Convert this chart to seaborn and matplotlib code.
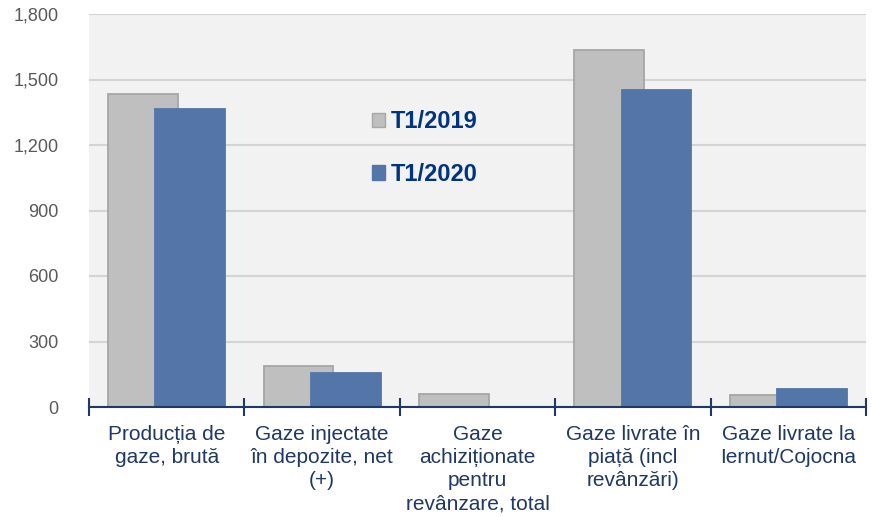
import matplotlib
matplotlib.use("Agg")
import matplotlib.pyplot as plt
from matplotlib.patches import Patch
import pandas as pd
import seaborn as sns

categories = [
    "Producția de\ngaze, brută",
    "Gaze injectate\nîn depozite, net\n(+)",
    "Gaze\nachiziționate\npentru\nrevânzare, total",
    "Gaze livrate în\npiață (incl\nrevânzări)",
    "Gaze livrate la\nIernut/Cojocna",
]
periods = ["T1/2019", "T1/2020"]
values_2019 = [1432, 188, 60, 1635, 55]
values_2020 = [1365, 156, 0, 1450, 82]
yticks = [0, 300, 600, 900, 1200, 1500, 1800]

colors = {"T1/2019": "#bfbfbf", "T1/2020": "#5475a8"}
edges = {"T1/2019": "#a6a6a6", "T1/2020": "#5475a8"}
navy = "#1f3864"

df = pd.DataFrame({
    "cat": categories * 2,
    "period": [periods[0]] * 5 + [periods[1]] * 5,
    "val": values_2019 + values_2020,
})

sns.set_style("white")
plt.rcParams["font.family"] = ["Liberation Sans", "DejaVu Sans"]

fig = plt.figure(figsize=(8.72, 5.17), dpi=100)
ax = fig.add_axes([89 / 872, 1 - 407 / 517, (866 - 89) / 872, (407 - 14) / 517])
ax.set_facecolor("#f2f2f2")

sns.barplot(data=df, x="cat", y="val", hue="period", hue_order=periods,
            palette=colors, ax=ax, legend=False, saturation=1)

# overlapping bars like the original
w = 0.45
offsets = [-0.152, 0.152]
for k, cont in enumerate(ax.containers):
    per = periods[k]
    for j, p in enumerate(cont.patches):
        p.set_width(w)
        p.set_x(j + offsets[k] - w / 2)
        p.set_edgecolor(edges[per])
        p.set_linewidth(1.3)
        p.set_zorder(3 + k)

ax.set_xlim(-0.5, 4.5)
ax.set_ylim(0, 1800)
ax.set_yticks(yticks)
ax.set_yticklabels([f"{v:,}" for v in yticks], color="#595959", fontsize=13)
ax.tick_params(axis="y", length=0, pad=22)
ax.yaxis.grid(True, color="#d4d4d4", linewidth=1.5, zorder=0)
ax.set_axisbelow(True)

ax.set_xticks(range(5))
ax.set_xticklabels(categories, color=navy, fontsize=15, linespacing=1.27, va="top")
ax.tick_params(axis="x", which="major", length=0, pad=13)
ax.set_xticks([i - 0.5 for i in range(6)], minor=True)
ax.tick_params(axis="x", which="minor", bottom=True, direction="inout", length=13,
               width=1.5, color=navy)

for s in ["left", "right", "top"]:
    ax.spines[s].set_visible(False)
ax.spines["bottom"].set_color(navy)
ax.spines["bottom"].set_linewidth(1.5)
ax.spines["bottom"].set_zorder(10)
ax.set_xlabel("")
ax.set_ylabel("")

handles = [Patch(facecolor=colors[p], edgecolor=edges[p], label=p) for p in periods]
ax.legend(handles=handles, loc="upper left", bbox_to_anchor=(351 / 872, 1 - 89 / 517),
          bbox_transform=fig.transFigure, frameon=False, handlelength=0.55,
          handleheight=0.55, handletextpad=0.25, labelspacing=1.25,
          prop={"weight": "bold", "size": 17}, labelcolor="#003380")

fig.savefig("out.png", dpi=100)
